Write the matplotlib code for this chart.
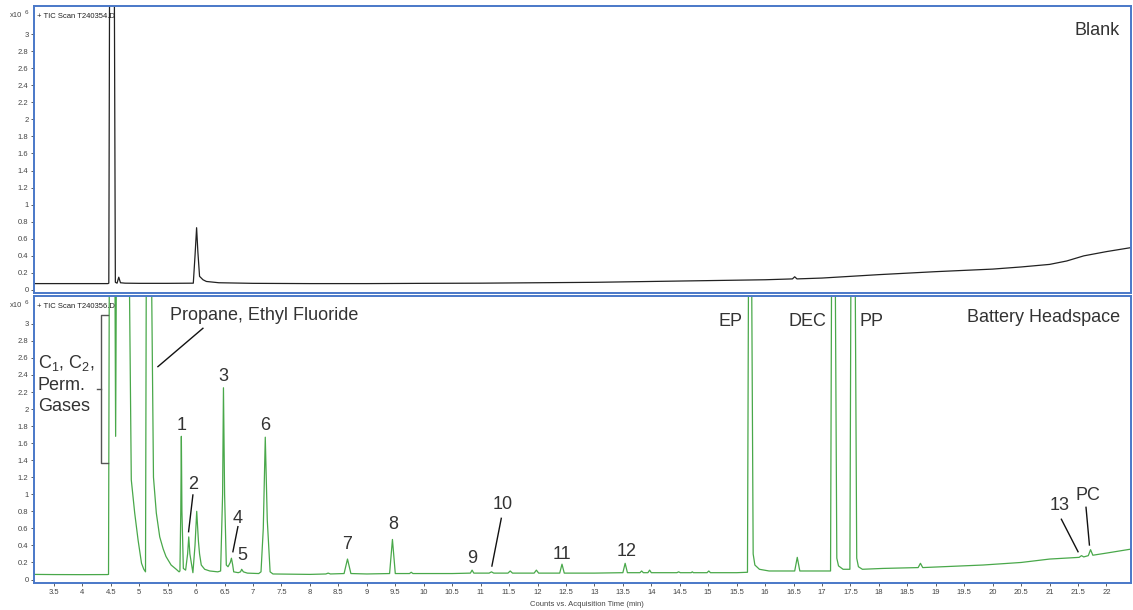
import matplotlib
matplotlib.use("Agg")
import matplotlib.pyplot as plt
from matplotlib.ticker import MultipleLocator, FuncFormatter

plt.rcParams['font.family'] = ['Liberation Sans', 'DejaVu Sans']
plt.rcParams['mathtext.default'] = 'regular'

# ---- blank run (T240354.D), counts x10^6 vs time (min); 4.0 = off scale
blank_time = [3.15, 4.0, 4.45, 4.465, 4.48, 4.56, 4.58, 4.61, 4.64, 4.67, 4.75, 5.0, 5.5,
              5.95, 5.98, 6.008, 6.03, 6.06, 6.12, 6.18, 6.4, 7.0, 8.0, 9.0, 10.0, 11.0,
              12.0, 13.0, 14.0, 15.0, 16.0, 16.48, 16.52, 16.56, 17.0, 18.0, 19.0, 20.0,
              20.5, 21.0, 21.3, 21.5, 21.6, 22.0, 22.46]
blank_counts = [0.075, 0.075, 0.075, 0.08, 4.0, 4.0, 0.09, 0.08, 0.15, 0.085, 0.08, 0.078, 0.078,
                0.08, 0.4, 0.73, 0.45, 0.16, 0.12, 0.10, 0.085, 0.078, 0.075, 0.075, 0.078, 0.08,
                0.085, 0.09, 0.10, 0.11, 0.12, 0.13, 0.155, 0.13, 0.14, 0.18, 0.215, 0.245,
                0.27, 0.30, 0.34, 0.38, 0.40, 0.45, 0.50]

# ---- battery headspace (T240356.D)
hs_time = [3.15, 3.5, 4.0, 4.44, 4.46, 4.475, 4.57, 4.585, 4.60, 4.82, 4.86, 4.92, 4.98,
           5.04, 5.08, 5.11, 5.125, 5.21, 5.25, 5.30, 5.36, 5.42, 5.47, 5.56, 5.65, 5.70,
           5.715, 5.73, 5.74, 5.75, 5.775, 5.815, 5.85, 5.87, 5.89, 5.943, 5.98, 6.01, 6.04,
           6.06, 6.09, 6.15, 6.24, 6.38, 6.43, 6.465, 6.48, 6.50, 6.53, 6.56, 6.60, 6.62,
           6.64, 6.66, 6.74, 6.78, 6.80, 6.83, 6.90, 7.10, 7.14, 7.18, 7.215, 7.25, 7.30,
           7.35, 8.0, 8.28, 8.32, 8.36, 8.60, 8.66, 8.72, 9.0, 9.40, 9.45, 9.50, 9.75, 9.78,
           9.81, 10.5, 10.82, 10.85, 10.88, 11.15, 11.19, 11.23, 11.48, 11.52, 11.56, 11.94,
           11.98, 12.02, 12.39, 12.43, 12.47, 13.0, 13.50, 13.54, 13.58, 13.80, 13.83, 13.86,
           13.94, 13.97, 14.0, 14.45, 14.48, 14.51, 14.70, 14.72, 14.74, 14.98, 15.01, 15.04,
           15.5, 15.69, 15.71, 15.76, 15.79, 15.82, 15.9, 16.07, 16.52, 16.565, 16.61, 17.15,
           17.17, 17.23, 17.26, 17.29, 17.37, 17.49, 17.51, 17.58, 17.61, 17.64, 17.71, 18.07,
           18.69, 18.73, 18.77, 19.83, 20.5, 21.0, 21.52, 21.56, 21.60, 21.68, 21.72, 21.76,
           22.0, 22.46]
hs_counts = [0.06, 0.058, 0.057, 0.058, 0.06, 4.0, 4.0, 1.68, 4.0, 4.0, 1.17, 0.78, 0.46,
             0.19, 0.12, 0.09, 4.0, 4.0, 1.2, 0.78, 0.50, 0.36, 0.27, 0.17, 0.12, 0.09,
             0.10, 0.8, 1.68, 0.8, 0.13, 0.11, 0.3, 0.50, 0.3, 0.08, 0.4, 0.80, 0.45,
             0.3, 0.17, 0.12, 0.10, 0.09, 0.10, 1.0, 2.25, 1.0, 0.17, 0.15, 0.2, 0.25,
             0.18, 0.09, 0.08, 0.09, 0.12, 0.09, 0.075, 0.07, 0.09, 0.6, 1.67, 0.7, 0.09,
             0.065, 0.06, 0.065, 0.075, 0.065, 0.07, 0.24, 0.07, 0.065, 0.07, 0.47, 0.07, 0.07, 0.085,
             0.07, 0.07, 0.075, 0.11, 0.075, 0.075, 0.09, 0.075, 0.075, 0.10, 0.075, 0.075,
             0.11, 0.075, 0.075, 0.18, 0.075, 0.075, 0.08, 0.19, 0.08, 0.08, 0.10, 0.08,
             0.08, 0.11, 0.08, 0.08, 0.09, 0.08, 0.08, 0.09, 0.08, 0.08, 0.10, 0.08,
             0.08, 0.085, 4.0, 4.0, 0.3, 0.17, 0.12, 0.10, 0.10, 0.26, 0.10, 0.10,
             4.0, 4.0, 0.25, 0.16, 0.12, 0.12, 4.0, 4.0, 0.25, 0.15, 0.12, 0.13,
             0.14, 0.19, 0.14, 0.17, 0.20, 0.24, 0.26, 0.28, 0.265, 0.28, 0.35, 0.285,
             0.31, 0.36]

y_ticks = [0, 0.2, 0.4, 0.6, 0.8, 1.0, 1.2, 1.4, 1.6, 1.8, 2.0, 2.2, 2.4, 2.6, 2.8, 3.0]

# peak labels: text, x, y (baseline)
peak_labels = ['1', '2', '3', '4', '5', '6', '7', '8', '9', '10', '11', '12', '13', 'PC']
peak_label_x = [5.739, 5.955, 6.47, 6.734, 6.82, 7.215, 8.656, 9.458, 10.853, 11.39,
                12.428, 13.56, 21.18, 21.67]
peak_label_y = [1.755, 1.059, 2.33, 0.667, 0.229, 1.755, 0.358, 0.589, 0.197, 0.824,
                0.237, 0.276, 0.816, 0.933]

# leader lines: (x0, y0, x1, y1)
leaders = [(5.943, 0.992, 5.867, 0.561),
           (6.734, 0.62, 6.646, 0.326),
           (11.363, 0.718, 11.198, 0.158),
           (21.207, 0.707, 21.50, 0.326),
           (21.64, 0.847, 21.70, 0.405),
           (5.328, 2.498, 6.119, 2.948)]

frame_blue = '#4a78c8'
tick_grey = '#444444'
text_col = '#333333'

fig = plt.figure(figsize=(11.33, 6.10), dpi=100)
ax1 = fig.add_axes([0.0300, 0.5197, 0.9682, 0.4705])
ax2 = fig.add_axes([0.0300, 0.04426, 0.9682, 0.4705])

ax1.plot(blank_time, blank_counts, color='#222222', lw=0.9)
ax2.plot(hs_time, hs_counts, color='#49a84a', lw=0.9)

for ax, ylims in ((ax1, (-0.035, 3.329)), (ax2, (-0.041, 3.327))):
    ax.set_xlim(3.15, 22.43)
    ax.set_ylim(*ylims)
    ax.xaxis.set_major_locator(MultipleLocator(0.5))
    ax.set_yticks(y_ticks)
    ax.xaxis.set_major_formatter(FuncFormatter(lambda v, p: '%g' % round(v, 2)))
    ax.yaxis.set_major_formatter(FuncFormatter(lambda v, p: '%g' % round(v, 2)))
    ax.tick_params(axis='both', labelsize=5.5, length=2.5, width=0.6, color=tick_grey,
                   labelcolor=tick_grey, pad=1.5)
    for s in ax.spines.values():
        s.set_color(frame_blue)
        s.set_linewidth(1.4)
ax1.tick_params(axis='x', labelbottom=False, length=0)

ax1.text(0.003, 0.965, '+ TIC Scan T240354.D', transform=ax1.transAxes, fontsize=5.5,
         color='#222222', va='center', ha='left')
ax2.text(0.003, 0.965, '+ TIC Scan T240356.D', transform=ax2.transAxes, fontsize=5.5,
         color='#222222', va='center', ha='left')
for yy in (0.9738, 0.4989):
    fig.text(0.0088, yy, 'x10', fontsize=5.5, color=tick_grey, va='center', ha='left')
    fig.text(0.0215, yy + 0.006, '6', fontsize=4.5, color=tick_grey, va='center', ha='left')

fig.text(0.518, 0.0098, 'Counts vs. Acquisition Time (min)', fontsize=5.5, color=tick_grey,
         ha='center', va='center')

ax1.text(22.24, 2.99, 'Blank', fontsize=13, color=text_col, ha='right', va='baseline')
ax2.text(22.24, 3.02, 'Battery Headspace', fontsize=13, color=text_col, ha='right', va='baseline')
ax2.text(15.61, 2.98, 'EP', fontsize=13, color=text_col, ha='right', va='baseline')
ax2.text(17.07, 2.98, 'DEC', fontsize=13, color=text_col, ha='right', va='baseline')
ax2.text(17.66, 2.98, 'PP', fontsize=13, color=text_col, ha='left', va='baseline')
ax2.text(5.537, 3.046, 'Propane, Ethyl Fluoride', fontsize=13, color=text_col,
         ha='left', va='baseline')
ax2.text(3.215, 2.66, 'C$_1$, C$_2$,\nPerm.\nGases', fontsize=13, color=text_col,
         ha='left', va='top', linespacing=1.3)

for lab, x, y in zip(peak_labels, peak_label_x, peak_label_y):
    ax2.text(x, y, lab, fontsize=13, color=text_col, ha='center', va='baseline')
for x0, y0, x1, y1 in leaders:
    ax2.plot([x0, x1], [y0, y1], color='#111111', lw=1.0)

# bracket for C1, C2, permanent gases
ax2.plot([4.449, 4.333, 4.333, 4.449], [3.104, 3.104, 1.364, 1.364], color='#555555', lw=1.0)
ax2.plot([4.256, 4.333], [2.232, 2.232], color='#555555', lw=1.0)

plt.savefig('out.png', dpi=100)
